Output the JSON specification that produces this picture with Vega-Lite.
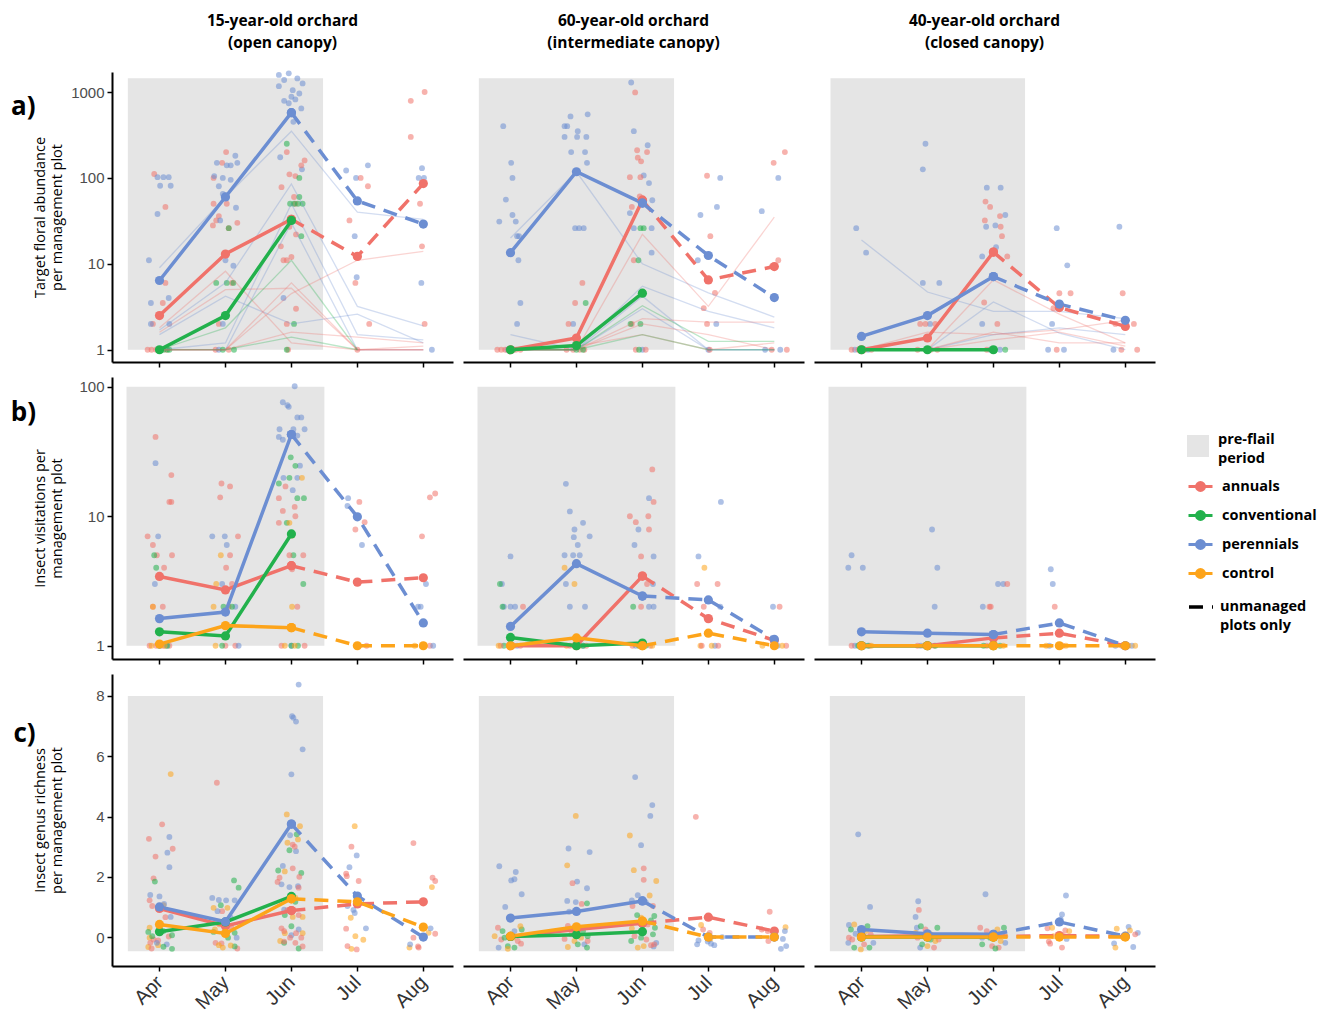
{
"$schema":"https://vega.github.io/schema/vega-lite/v6.json",
"background":"white",
"padding":{"left":10,"top":13,"right":5,"bottom":3},
"config":{"font":"Liberation Sans","view":{"stroke":null},
"axis":{"domainColor":"black","domainWidth":2,"tickColor":"black","tickWidth":1.5,"tickSize":5,"labelColor":"#4d4d4d","labelFontSize":15,"labelFont":"Liberation Sans","grid":false,"titleFont":"Open Sans","titleFontWeight":"normal","titleFontSize":14.5,"titleLineHeight":17,"titleColor":"black"},
"legend":{"labelFont":"Open Sans","labelFontWeight":"bold","labelFontSize":14.5,"labelColor":"black","padding":0}},
"spacing":9,
"resolve":{"scale":{"y":"independent","x":"independent"}},
"datasets":{
"rowA":[
{"kind":"bg","orch":"A","per":"pre-flail period","t":0.52,"t2":3.48,"v":1,"v2":1450},
{"kind":"bg","orch":"B","per":"pre-flail period","t":0.52,"t2":3.48,"v":1,"v2":1450},
{"kind":"bg","orch":"C","per":"pre-flail period","t":0.53,"t2":3.48,"v":1,"v2":1450},
{"orch":"A","grp":"ann","t":0.92,"v":111},{"orch":"A","grp":"ann","t":1.09,"v":46},{"orch":"A","grp":"ann","t":1.09,"v":6},{"orch":"A","grp":"ann","t":1.05,"v":3.5},{"orch":"A","grp":"ann","t":0.9,"v":2},{"orch":"A","grp":"ann","t":0.82,"v":1},{"orch":"A","grp":"ann","t":0.88,"v":1},{"orch":"A","grp":"ann","t":0.95,"v":1},{"orch":"A","grp":"ann","t":1.02,"v":1},{"orch":"A","grp":"ann","t":1.1,"v":1},
{"orch":"A","grp":"per","t":0.97,"v":102},{"orch":"A","grp":"per","t":1.06,"v":102},{"orch":"A","grp":"per","t":1.14,"v":102},{"orch":"A","grp":"per","t":1.01,"v":81},{"orch":"A","grp":"per","t":1.17,"v":81},{"orch":"A","grp":"per","t":0.97,"v":38},{"orch":"A","grp":"per","t":0.84,"v":11},{"orch":"A","grp":"per","t":0.87,"v":3.5},{"orch":"A","grp":"per","t":1.14,"v":4},{"orch":"A","grp":"per","t":0.87,"v":2},{"orch":"A","grp":"per","t":1.15,"v":2},
{"orch":"A","grp":"con","t":1.06,"v":1},{"orch":"A","grp":"con","t":1.12,"v":1},{"orch":"A","grp":"con","t":1.15,"v":1},
{"orch":"A","grp":"ann","t":2.01,"v":200},{"orch":"A","grp":"ann","t":1.95,"v":150},{"orch":"A","grp":"ann","t":1.82,"v":100},{"orch":"A","grp":"ann","t":1.82,"v":50},{"orch":"A","grp":"ann","t":2.02,"v":50},{"orch":"A","grp":"ann","t":1.9,"v":36},{"orch":"A","grp":"ann","t":1.86,"v":32},{"orch":"A","grp":"ann","t":1.81,"v":28},{"orch":"A","grp":"ann","t":2.18,"v":30},{"orch":"A","grp":"ann","t":2.05,"v":26},{"orch":"A","grp":"ann","t":2.1,"v":6},{"orch":"A","grp":"ann","t":1.9,"v":2},{"orch":"A","grp":"ann","t":1.85,"v":1},{"orch":"A","grp":"ann","t":2.05,"v":1},
{"orch":"A","grp":"per","t":1.87,"v":150},{"orch":"A","grp":"per","t":2.15,"v":181},{"orch":"A","grp":"per","t":2.18,"v":150},{"orch":"A","grp":"per","t":1.83,"v":105},{"orch":"A","grp":"per","t":1.96,"v":100},{"orch":"A","grp":"per","t":2.02,"v":140},{"orch":"A","grp":"per","t":2.08,"v":140},{"orch":"A","grp":"per","t":1.9,"v":80},{"orch":"A","grp":"per","t":2.08,"v":95},{"orch":"A","grp":"per","t":1.96,"v":65},{"orch":"A","grp":"per","t":2.16,"v":45},{"orch":"A","grp":"per","t":1.92,"v":32},{"orch":"A","grp":"per","t":2.0,"v":11},{"orch":"A","grp":"per","t":2.12,"v":9.5},{"orch":"A","grp":"per","t":1.96,"v":2},{"orch":"A","grp":"per","t":1.9,"v":1},
{"orch":"A","grp":"con","t":2.05,"v":26},{"orch":"A","grp":"con","t":1.86,"v":6},{"orch":"A","grp":"con","t":2.02,"v":6},{"orch":"A","grp":"con","t":2.12,"v":6},{"orch":"A","grp":"con","t":1.96,"v":1},{"orch":"A","grp":"con","t":2.13,"v":1},
{"orch":"A","grp":"per","t":2.81,"v":1580},{"orch":"A","grp":"per","t":2.89,"v":1380},{"orch":"A","grp":"per","t":2.96,"v":1650},{"orch":"A","grp":"per","t":3.09,"v":1440},{"orch":"A","grp":"per","t":3.17,"v":1260},{"orch":"A","grp":"per","t":2.81,"v":1170},{"orch":"A","grp":"per","t":3.02,"v":1050},{"orch":"A","grp":"per","t":3.12,"v":960},{"orch":"A","grp":"per","t":3.0,"v":880},{"orch":"A","grp":"per","t":3.06,"v":820},{"orch":"A","grp":"per","t":2.89,"v":790},{"orch":"A","grp":"per","t":2.96,"v":740},{"orch":"A","grp":"per","t":3.15,"v":645},{"orch":"A","grp":"per","t":3.03,"v":450},{"orch":"A","grp":"per","t":2.83,"v":174},{"orch":"A","grp":"per","t":3.16,"v":126},{"orch":"A","grp":"per","t":2.88,"v":4},
{"orch":"A","grp":"ann","t":2.93,"v":200},{"orch":"A","grp":"ann","t":3.2,"v":160},{"orch":"A","grp":"ann","t":3.15,"v":140},{"orch":"A","grp":"ann","t":2.97,"v":110},{"orch":"A","grp":"ann","t":3.06,"v":105},{"orch":"A","grp":"ann","t":2.85,"v":78},{"orch":"A","grp":"ann","t":3.04,"v":60},{"orch":"A","grp":"ann","t":3.06,"v":50},{"orch":"A","grp":"ann","t":2.97,"v":27},{"orch":"A","grp":"ann","t":3.07,"v":22},{"orch":"A","grp":"ann","t":2.84,"v":16},{"orch":"A","grp":"ann","t":2.88,"v":11},{"orch":"A","grp":"ann","t":2.93,"v":11},{"orch":"A","grp":"ann","t":3.0,"v":12},{"orch":"A","grp":"ann","t":3.07,"v":3},{"orch":"A","grp":"ann","t":2.93,"v":2},{"orch":"A","grp":"ann","t":2.95,"v":1},
{"orch":"A","grp":"con","t":2.93,"v":250},{"orch":"A","grp":"con","t":3.12,"v":100},{"orch":"A","grp":"con","t":3.12,"v":60},{"orch":"A","grp":"con","t":2.98,"v":50},{"orch":"A","grp":"con","t":3.04,"v":50},{"orch":"A","grp":"con","t":3.1,"v":50},{"orch":"A","grp":"con","t":3.17,"v":50},{"orch":"A","grp":"con","t":3.15,"v":21},{"orch":"A","grp":"con","t":3.04,"v":2},{"orch":"A","grp":"con","t":2.93,"v":1},
{"orch":"A","grp":"per","t":3.83,"v":122},{"orch":"A","grp":"per","t":3.98,"v":100},{"orch":"A","grp":"per","t":4.16,"v":140},{"orch":"A","grp":"per","t":3.96,"v":21},{"orch":"A","grp":"per","t":3.99,"v":7},
{"orch":"A","grp":"ann","t":4.05,"v":100},{"orch":"A","grp":"ann","t":4.16,"v":80},{"orch":"A","grp":"ann","t":3.88,"v":32},{"orch":"A","grp":"ann","t":3.97,"v":6},{"orch":"A","grp":"ann","t":4.18,"v":2},{"orch":"A","grp":"ann","t":4.0,"v":1},
{"orch":"A","grp":"ann","t":4.81,"v":790},{"orch":"A","grp":"ann","t":5.02,"v":1000},{"orch":"A","grp":"ann","t":4.81,"v":300},{"orch":"A","grp":"ann","t":4.95,"v":50},{"orch":"A","grp":"ann","t":4.98,"v":16},{"orch":"A","grp":"ann","t":5.02,"v":2},
{"orch":"A","grp":"per","t":4.98,"v":130},{"orch":"A","grp":"per","t":4.93,"v":100},{"orch":"A","grp":"per","t":5.01,"v":100},{"orch":"A","grp":"per","t":4.97,"v":6},{"orch":"A","grp":"per","t":5.13,"v":1},
{"orch":"B","grp":"per","t":0.89,"v":400},{"orch":"B","grp":"per","t":1.01,"v":150},{"orch":"B","grp":"per","t":1.03,"v":100},{"orch":"B","grp":"per","t":0.93,"v":56},{"orch":"B","grp":"per","t":1.03,"v":37},{"orch":"B","grp":"per","t":0.83,"v":31},{"orch":"B","grp":"per","t":1.08,"v":31},{"orch":"B","grp":"per","t":1.1,"v":21},{"orch":"B","grp":"per","t":1.13,"v":21},{"orch":"B","grp":"per","t":1.12,"v":11},{"orch":"B","grp":"per","t":1.15,"v":3.5},{"orch":"B","grp":"per","t":1.1,"v":2},{"orch":"B","grp":"per","t":0.95,"v":1},
{"orch":"B","grp":"ann","t":0.8,"v":1},{"orch":"B","grp":"ann","t":0.86,"v":1},{"orch":"B","grp":"ann","t":0.92,"v":1},{"orch":"B","grp":"ann","t":1.0,"v":1},{"orch":"B","grp":"ann","t":1.08,"v":1},{"orch":"B","grp":"ann","t":1.15,"v":1},{"orch":"B","grp":"con","t":1.04,"v":1},
{"orch":"B","grp":"per","t":1.91,"v":520},{"orch":"B","grp":"per","t":1.82,"v":400},{"orch":"B","grp":"per","t":1.86,"v":400},{"orch":"B","grp":"per","t":2.17,"v":550},{"orch":"B","grp":"per","t":2.02,"v":350},{"orch":"B","grp":"per","t":1.82,"v":300},{"orch":"B","grp":"per","t":2.01,"v":300},{"orch":"B","grp":"per","t":2.15,"v":300},{"orch":"B","grp":"per","t":1.92,"v":200},{"orch":"B","grp":"per","t":2.13,"v":200},{"orch":"B","grp":"per","t":2.16,"v":150},{"orch":"B","grp":"per","t":1.98,"v":26},{"orch":"B","grp":"per","t":2.04,"v":26},{"orch":"B","grp":"per","t":2.11,"v":26},{"orch":"B","grp":"per","t":1.95,"v":2},
{"orch":"B","grp":"ann","t":2.09,"v":6},{"orch":"B","grp":"ann","t":1.98,"v":3.5},{"orch":"B","grp":"ann","t":1.88,"v":2},{"orch":"B","grp":"ann","t":1.85,"v":1},{"orch":"B","grp":"ann","t":1.95,"v":1},{"orch":"B","grp":"ann","t":2.05,"v":1},{"orch":"B","grp":"ann","t":2.12,"v":1},
{"orch":"B","grp":"con","t":2.14,"v":3.5},{"orch":"B","grp":"con","t":2.0,"v":1},{"orch":"B","grp":"con","t":2.1,"v":1},
{"orch":"B","grp":"per","t":2.83,"v":1290},{"orch":"B","grp":"per","t":2.87,"v":350},{"orch":"B","grp":"per","t":3.08,"v":240},{"orch":"B","grp":"per","t":3.02,"v":107},{"orch":"B","grp":"per","t":3.1,"v":87},{"orch":"B","grp":"per","t":3.15,"v":55},{"orch":"B","grp":"per","t":2.81,"v":39},{"orch":"B","grp":"per","t":2.87,"v":26},{"orch":"B","grp":"per","t":3.14,"v":26},{"orch":"B","grp":"per","t":3.14,"v":13.5},{"orch":"B","grp":"per","t":3.0,"v":1},
{"orch":"B","grp":"ann","t":2.89,"v":990},{"orch":"B","grp":"ann","t":2.92,"v":210},{"orch":"B","grp":"ann","t":3.07,"v":200},{"orch":"B","grp":"ann","t":2.93,"v":172},{"orch":"B","grp":"ann","t":2.98,"v":156},{"orch":"B","grp":"ann","t":2.81,"v":102},{"orch":"B","grp":"ann","t":2.97,"v":102},{"orch":"B","grp":"ann","t":2.96,"v":61},{"orch":"B","grp":"ann","t":2.99,"v":55},{"orch":"B","grp":"ann","t":2.84,"v":46},{"orch":"B","grp":"ann","t":2.87,"v":11},{"orch":"B","grp":"ann","t":2.84,"v":2},{"orch":"B","grp":"ann","t":2.9,"v":1},{"orch":"B","grp":"ann","t":3.05,"v":1},
{"orch":"B","grp":"con","t":2.97,"v":26},{"orch":"B","grp":"con","t":3.02,"v":26},{"orch":"B","grp":"con","t":2.94,"v":11},{"orch":"B","grp":"con","t":2.82,"v":2},{"orch":"B","grp":"con","t":2.97,"v":2},{"orch":"B","grp":"con","t":2.95,"v":1},
{"orch":"B","grp":"per","t":4.18,"v":100},{"orch":"B","grp":"per","t":4.13,"v":46},{"orch":"B","grp":"per","t":3.88,"v":37},{"orch":"B","grp":"per","t":3.84,"v":11},{"orch":"B","grp":"per","t":4.12,"v":2},{"orch":"B","grp":"per","t":4.0,"v":1},
{"orch":"B","grp":"ann","t":3.98,"v":106},{"orch":"B","grp":"ann","t":4.03,"v":21},{"orch":"B","grp":"ann","t":4.1,"v":4.6},{"orch":"B","grp":"ann","t":3.93,"v":3.05},{"orch":"B","grp":"ann","t":3.98,"v":2},{"orch":"B","grp":"ann","t":4.02,"v":1},
{"orch":"B","grp":"ann","t":5.16,"v":200},{"orch":"B","grp":"ann","t":4.99,"v":150},{"orch":"B","grp":"ann","t":5.06,"v":11},{"orch":"B","grp":"ann","t":4.96,"v":9.3},{"orch":"B","grp":"ann","t":4.96,"v":1},{"orch":"B","grp":"ann","t":5.19,"v":1},
{"orch":"B","grp":"per","t":5.06,"v":100},{"orch":"B","grp":"per","t":4.81,"v":41},{"orch":"B","grp":"per","t":4.86,"v":1},{"orch":"B","grp":"per","t":5.09,"v":1},
{"orch":"C","grp":"per","t":0.92,"v":26},{"orch":"C","grp":"per","t":1.07,"v":13.5},{"orch":"C","grp":"per","t":0.9,"v":1},{"orch":"C","grp":"per","t":1.0,"v":1},{"orch":"C","grp":"per","t":1.1,"v":1},{"orch":"C","grp":"ann","t":0.85,"v":1},{"orch":"C","grp":"ann","t":0.95,"v":1},{"orch":"C","grp":"ann","t":1.05,"v":1},{"orch":"C","grp":"ann","t":1.15,"v":1},{"orch":"C","grp":"con","t":1.0,"v":1},
{"orch":"C","grp":"per","t":1.97,"v":250},{"orch":"C","grp":"per","t":1.93,"v":126},{"orch":"C","grp":"per","t":1.93,"v":6},{"orch":"C","grp":"per","t":2.18,"v":6},{"orch":"C","grp":"per","t":2.04,"v":2},{"orch":"C","grp":"ann","t":1.89,"v":2},{"orch":"C","grp":"ann","t":1.97,"v":2},{"orch":"C","grp":"ann","t":2.12,"v":2},{"orch":"C","grp":"ann","t":1.85,"v":1},{"orch":"C","grp":"ann","t":2.05,"v":1},{"orch":"C","grp":"ann","t":2.15,"v":1},{"orch":"C","grp":"con","t":2.0,"v":1},
{"orch":"C","grp":"per","t":2.9,"v":77},{"orch":"C","grp":"per","t":3.11,"v":77},{"orch":"C","grp":"per","t":3.18,"v":37},{"orch":"C","grp":"per","t":2.89,"v":27},{"orch":"C","grp":"per","t":3.03,"v":28},{"orch":"C","grp":"per","t":3.04,"v":15.6},{"orch":"C","grp":"per","t":2.83,"v":12.2},{"orch":"C","grp":"per","t":2.83,"v":2},{"orch":"C","grp":"per","t":2.95,"v":1},{"orch":"C","grp":"per","t":3.1,"v":1},
{"orch":"C","grp":"ann","t":2.88,"v":53},{"orch":"C","grp":"ann","t":2.95,"v":46},{"orch":"C","grp":"ann","t":3.1,"v":36},{"orch":"C","grp":"ann","t":2.87,"v":32},{"orch":"C","grp":"ann","t":3.11,"v":27},{"orch":"C","grp":"ann","t":3.13,"v":21},{"orch":"C","grp":"ann","t":3.21,"v":12.2},{"orch":"C","grp":"ann","t":2.86,"v":3.55},{"orch":"C","grp":"ann","t":3.06,"v":2},{"orch":"C","grp":"ann","t":2.9,"v":1},{"orch":"C","grp":"ann","t":3.0,"v":1},
{"orch":"C","grp":"con","t":2.98,"v":1},{"orch":"C","grp":"con","t":3.18,"v":1},
{"orch":"C","grp":"per","t":3.96,"v":26},{"orch":"C","grp":"per","t":4.12,"v":9.6},{"orch":"C","grp":"per","t":3.89,"v":2},{"orch":"C","grp":"per","t":3.83,"v":1},{"orch":"C","grp":"per","t":4.07,"v":1},
{"orch":"C","grp":"ann","t":4.0,"v":4.55},{"orch":"C","grp":"ann","t":4.17,"v":4.55},{"orch":"C","grp":"ann","t":3.91,"v":3.05},{"orch":"C","grp":"ann","t":3.96,"v":1},
{"orch":"C","grp":"per","t":4.91,"v":27},{"orch":"C","grp":"per","t":4.82,"v":1},
{"orch":"C","grp":"ann","t":4.96,"v":4.55},{"orch":"C","grp":"ann","t":4.85,"v":2},{"orch":"C","grp":"ann","t":5.13,"v":2},{"orch":"C","grp":"ann","t":4.94,"v":1},{"orch":"C","grp":"ann","t":5.18,"v":1},
{"kind":"ln","orch":"A","grp":"per","id":"A1","t":1,"v":9},{"kind":"ln","orch":"A","grp":"per","id":"A1","t":2,"v":60},{"kind":"ln","orch":"A","grp":"per","id":"A1","t":3,"v":350},{"kind":"ln","orch":"A","grp":"per","id":"A1","t":4,"v":40},{"kind":"ln","orch":"A","grp":"per","id":"A1","t":5,"v":33},
{"kind":"ln","orch":"A","grp":"per","id":"A2","t":1,"v":1.5},{"kind":"ln","orch":"A","grp":"per","id":"A2","t":2,"v":4.2},{"kind":"ln","orch":"A","grp":"per","id":"A2","t":3,"v":2},{"kind":"ln","orch":"A","grp":"per","id":"A2","t":4,"v":2.6},{"kind":"ln","orch":"A","grp":"per","id":"A2","t":5,"v":1.2},
{"kind":"ln","orch":"A","grp":"per","id":"A3","t":1,"v":1.7},{"kind":"ln","orch":"A","grp":"per","id":"A3","t":2,"v":6},{"kind":"ln","orch":"A","grp":"per","id":"A3","t":3,"v":85},{"kind":"ln","orch":"A","grp":"per","id":"A3","t":4,"v":3.2},{"kind":"ln","orch":"A","grp":"per","id":"A3","t":5,"v":1.9},
{"kind":"ln","orch":"A","grp":"per","id":"A4","t":1,"v":1},{"kind":"ln","orch":"A","grp":"per","id":"A4","t":2,"v":1.2},{"kind":"ln","orch":"A","grp":"per","id":"A4","t":3,"v":50},{"kind":"ln","orch":"A","grp":"per","id":"A4","t":4,"v":1.5},{"kind":"ln","orch":"A","grp":"per","id":"A4","t":5,"v":1.3},
{"kind":"ln","orch":"A","grp":"per","id":"A5","t":1,"v":1},{"kind":"ln","orch":"A","grp":"per","id":"A5","t":2,"v":1},{"kind":"ln","orch":"A","grp":"per","id":"A5","t":3,"v":30},{"kind":"ln","orch":"A","grp":"per","id":"A5","t":4,"v":1},{"kind":"ln","orch":"A","grp":"per","id":"A5","t":5,"v":1},
{"kind":"ln","orch":"A","grp":"ann","id":"A6","t":1,"v":1.8},{"kind":"ln","orch":"A","grp":"ann","id":"A6","t":2,"v":8.2},{"kind":"ln","orch":"A","grp":"ann","id":"A6","t":3,"v":1.2},{"kind":"ln","orch":"A","grp":"ann","id":"A6","t":4,"v":1},{"kind":"ln","orch":"A","grp":"ann","id":"A6","t":5,"v":1},
{"kind":"ln","orch":"A","grp":"ann","id":"A7","t":1,"v":1.6},{"kind":"ln","orch":"A","grp":"ann","id":"A7","t":2,"v":5},{"kind":"ln","orch":"A","grp":"ann","id":"A7","t":3,"v":5.2},{"kind":"ln","orch":"A","grp":"ann","id":"A7","t":4,"v":1},{"kind":"ln","orch":"A","grp":"ann","id":"A7","t":5,"v":1},
{"kind":"ln","orch":"A","grp":"ann","id":"A8","t":1,"v":1},{"kind":"ln","orch":"A","grp":"ann","id":"A8","t":2,"v":1},{"kind":"ln","orch":"A","grp":"ann","id":"A8","t":3,"v":4.5},{"kind":"ln","orch":"A","grp":"ann","id":"A8","t":4,"v":11},{"kind":"ln","orch":"A","grp":"ann","id":"A8","t":5,"v":14},
{"kind":"ln","orch":"A","grp":"ann","id":"A9","t":1,"v":1},{"kind":"ln","orch":"A","grp":"ann","id":"A9","t":2,"v":1},{"kind":"ln","orch":"A","grp":"ann","id":"A9","t":3,"v":6},{"kind":"ln","orch":"A","grp":"ann","id":"A9","t":4,"v":1},{"kind":"ln","orch":"A","grp":"ann","id":"A9","t":5,"v":1.1},
{"kind":"ln","orch":"A","grp":"ann","id":"A10","t":1,"v":1},{"kind":"ln","orch":"A","grp":"ann","id":"A10","t":2,"v":1},{"kind":"ln","orch":"A","grp":"ann","id":"A10","t":3,"v":1.6},{"kind":"ln","orch":"A","grp":"ann","id":"A10","t":4,"v":1.4},{"kind":"ln","orch":"A","grp":"ann","id":"A10","t":5,"v":1.2},
{"kind":"ln","orch":"A","grp":"con","id":"A11","t":1,"v":1},{"kind":"ln","orch":"A","grp":"con","id":"A11","t":2,"v":1.8},{"kind":"ln","orch":"A","grp":"con","id":"A11","t":3,"v":11},{"kind":"ln","orch":"A","grp":"con","id":"A11","t":4,"v":1},
{"kind":"ln","orch":"A","grp":"con","id":"A12","t":1,"v":1},{"kind":"ln","orch":"A","grp":"con","id":"A12","t":2,"v":1},{"kind":"ln","orch":"A","grp":"con","id":"A12","t":3,"v":1.4},{"kind":"ln","orch":"A","grp":"con","id":"A12","t":4,"v":1},
{"kind":"ln","orch":"B","grp":"per","id":"B1","t":1,"v":20},{"kind":"ln","orch":"B","grp":"per","id":"B1","t":2,"v":118},{"kind":"ln","orch":"B","grp":"per","id":"B1","t":3,"v":10},{"kind":"ln","orch":"B","grp":"per","id":"B1","t":4,"v":4.6},{"kind":"ln","orch":"B","grp":"per","id":"B1","t":5,"v":2.4},
{"kind":"ln","orch":"B","grp":"per","id":"B2","t":1,"v":1.5},{"kind":"ln","orch":"B","grp":"per","id":"B2","t":2,"v":1},{"kind":"ln","orch":"B","grp":"per","id":"B2","t":3,"v":4.2},{"kind":"ln","orch":"B","grp":"per","id":"B2","t":4,"v":1},{"kind":"ln","orch":"B","grp":"per","id":"B2","t":5,"v":1},
{"kind":"ln","orch":"B","grp":"per","id":"B3","t":1,"v":1},{"kind":"ln","orch":"B","grp":"per","id":"B3","t":2,"v":1},{"kind":"ln","orch":"B","grp":"per","id":"B3","t":3,"v":5.5},{"kind":"ln","orch":"B","grp":"per","id":"B3","t":4,"v":2.8},{"kind":"ln","orch":"B","grp":"per","id":"B3","t":5,"v":1.8},
{"kind":"ln","orch":"B","grp":"per","id":"B4","t":1,"v":1},{"kind":"ln","orch":"B","grp":"per","id":"B4","t":2,"v":1},{"kind":"ln","orch":"B","grp":"per","id":"B4","t":3,"v":3},{"kind":"ln","orch":"B","grp":"per","id":"B4","t":4,"v":1},{"kind":"ln","orch":"B","grp":"per","id":"B4","t":5,"v":1},
{"kind":"ln","orch":"B","grp":"ann","id":"B5","t":1,"v":1},{"kind":"ln","orch":"B","grp":"ann","id":"B5","t":2,"v":1},{"kind":"ln","orch":"B","grp":"ann","id":"B5","t":3,"v":22},{"kind":"ln","orch":"B","grp":"ann","id":"B5","t":4,"v":3.2},{"kind":"ln","orch":"B","grp":"ann","id":"B5","t":5,"v":35},
{"kind":"ln","orch":"B","grp":"ann","id":"B6","t":1,"v":1},{"kind":"ln","orch":"B","grp":"ann","id":"B6","t":2,"v":1},{"kind":"ln","orch":"B","grp":"ann","id":"B6","t":3,"v":2.3},{"kind":"ln","orch":"B","grp":"ann","id":"B6","t":4,"v":2.1},{"kind":"ln","orch":"B","grp":"ann","id":"B6","t":5,"v":2.1},
{"kind":"ln","orch":"B","grp":"ann","id":"B7","t":1,"v":1},{"kind":"ln","orch":"B","grp":"ann","id":"B7","t":2,"v":1},{"kind":"ln","orch":"B","grp":"ann","id":"B7","t":3,"v":2},{"kind":"ln","orch":"B","grp":"ann","id":"B7","t":4,"v":1.5},{"kind":"ln","orch":"B","grp":"ann","id":"B7","t":5,"v":1},
{"kind":"ln","orch":"B","grp":"ann","id":"B8","t":1,"v":1},{"kind":"ln","orch":"B","grp":"ann","id":"B8","t":2,"v":1.1},{"kind":"ln","orch":"B","grp":"ann","id":"B8","t":3,"v":1.5},{"kind":"ln","orch":"B","grp":"ann","id":"B8","t":4,"v":1},{"kind":"ln","orch":"B","grp":"ann","id":"B8","t":5,"v":1.2},
{"kind":"ln","orch":"B","grp":"con","id":"B9","t":1,"v":1},{"kind":"ln","orch":"B","grp":"con","id":"B9","t":2,"v":1},{"kind":"ln","orch":"B","grp":"con","id":"B9","t":3,"v":3.25},{"kind":"ln","orch":"B","grp":"con","id":"B9","t":4,"v":1.25},{"kind":"ln","orch":"B","grp":"con","id":"B9","t":5,"v":1.25},
{"kind":"ln","orch":"B","grp":"con","id":"B10","t":1,"v":1},{"kind":"ln","orch":"B","grp":"con","id":"B10","t":2,"v":1},{"kind":"ln","orch":"B","grp":"con","id":"B10","t":3,"v":1.5},{"kind":"ln","orch":"B","grp":"con","id":"B10","t":4,"v":1},{"kind":"ln","orch":"B","grp":"con","id":"B10","t":5,"v":1},
{"kind":"ln","orch":"C","grp":"per","id":"C1","t":1,"v":19},{"kind":"ln","orch":"C","grp":"per","id":"C1","t":2,"v":4.7},{"kind":"ln","orch":"C","grp":"per","id":"C1","t":3,"v":2.8},{"kind":"ln","orch":"C","grp":"per","id":"C1","t":4,"v":2.8},{"kind":"ln","orch":"C","grp":"per","id":"C1","t":5,"v":2.3},
{"kind":"ln","orch":"C","grp":"per","id":"C2","t":1,"v":1},{"kind":"ln","orch":"C","grp":"per","id":"C2","t":2,"v":1},{"kind":"ln","orch":"C","grp":"per","id":"C2","t":3,"v":3.6},{"kind":"ln","orch":"C","grp":"per","id":"C2","t":4,"v":1.56},{"kind":"ln","orch":"C","grp":"per","id":"C2","t":5,"v":1},
{"kind":"ln","orch":"C","grp":"per","id":"C3","t":1,"v":1},{"kind":"ln","orch":"C","grp":"per","id":"C3","t":2,"v":1},{"kind":"ln","orch":"C","grp":"per","id":"C3","t":3,"v":1.5},{"kind":"ln","orch":"C","grp":"per","id":"C3","t":4,"v":1.8},{"kind":"ln","orch":"C","grp":"per","id":"C3","t":5,"v":1.5},
{"kind":"ln","orch":"C","grp":"ann","id":"C4","t":1,"v":1},{"kind":"ln","orch":"C","grp":"ann","id":"C4","t":2,"v":1},{"kind":"ln","orch":"C","grp":"ann","id":"C4","t":3,"v":6.5},{"kind":"ln","orch":"C","grp":"ann","id":"C4","t":4,"v":2.6},{"kind":"ln","orch":"C","grp":"ann","id":"C4","t":5,"v":1.2},
{"kind":"ln","orch":"C","grp":"ann","id":"C5","t":1,"v":1},{"kind":"ln","orch":"C","grp":"ann","id":"C5","t":2,"v":1.6},{"kind":"ln","orch":"C","grp":"ann","id":"C5","t":3,"v":1.5},{"kind":"ln","orch":"C","grp":"ann","id":"C5","t":4,"v":1.7},{"kind":"ln","orch":"C","grp":"ann","id":"C5","t":5,"v":2.2},
{"kind":"ln","orch":"C","grp":"ann","id":"C6","t":1,"v":1},{"kind":"ln","orch":"C","grp":"ann","id":"C6","t":2,"v":1},{"kind":"ln","orch":"C","grp":"ann","id":"C6","t":3,"v":1.3},{"kind":"ln","orch":"C","grp":"ann","id":"C6","t":4,"v":1.6},{"kind":"ln","orch":"C","grp":"ann","id":"C6","t":5,"v":1.1},
{"kind":"ln","orch":"C","grp":"ann","id":"C7","t":1,"v":1},{"kind":"ln","orch":"C","grp":"ann","id":"C7","t":2,"v":1},{"kind":"ln","orch":"C","grp":"ann","id":"C7","t":3,"v":1.6},{"kind":"ln","orch":"C","grp":"ann","id":"C7","t":4,"v":1.2},{"kind":"ln","orch":"C","grp":"ann","id":"C7","t":5,"v":1.2},
{"kind":"mn","orch":"A","grp":"ann","seg":"managed","t":1,"v":2.5},{"kind":"mn","orch":"A","grp":"ann","seg":"managed","t":2,"v":13},{"kind":"mn","orch":"A","grp":"ann","seg":"managed","t":3,"v":33},
{"kind":"mn","orch":"A","grp":"ann","seg":"unmanaged plots only","t":3,"v":33},{"kind":"mn","orch":"A","grp":"ann","seg":"unmanaged plots only","t":4,"v":12.2},{"kind":"mn","orch":"A","grp":"ann","seg":"unmanaged plots only","t":5,"v":86},
{"kind":"mn","orch":"A","grp":"con","seg":"managed","t":1,"v":1},{"kind":"mn","orch":"A","grp":"con","seg":"managed","t":2,"v":2.5},{"kind":"mn","orch":"A","grp":"con","seg":"managed","t":3,"v":32},
{"kind":"mn","orch":"A","grp":"per","seg":"managed","t":1,"v":6.4},{"kind":"mn","orch":"A","grp":"per","seg":"managed","t":2,"v":60},{"kind":"mn","orch":"A","grp":"per","seg":"managed","t":3,"v":575},
{"kind":"mn","orch":"A","grp":"per","seg":"unmanaged plots only","t":3,"v":575},{"kind":"mn","orch":"A","grp":"per","seg":"unmanaged plots only","t":4,"v":54},{"kind":"mn","orch":"A","grp":"per","seg":"unmanaged plots only","t":5,"v":29},
{"kind":"mn","orch":"B","grp":"ann","seg":"managed","t":1,"v":1},{"kind":"mn","orch":"B","grp":"ann","seg":"managed","t":2,"v":1.37},{"kind":"mn","orch":"B","grp":"ann","seg":"managed","t":3,"v":55},
{"kind":"mn","orch":"B","grp":"ann","seg":"unmanaged plots only","t":3,"v":55},{"kind":"mn","orch":"B","grp":"ann","seg":"unmanaged plots only","t":4,"v":6.5},{"kind":"mn","orch":"B","grp":"ann","seg":"unmanaged plots only","t":5,"v":9.3},
{"kind":"mn","orch":"B","grp":"con","seg":"managed","t":1,"v":1},{"kind":"mn","orch":"B","grp":"con","seg":"managed","t":2,"v":1.12},{"kind":"mn","orch":"B","grp":"con","seg":"managed","t":3,"v":4.55},
{"kind":"mn","orch":"B","grp":"per","seg":"managed","t":1,"v":13.5},{"kind":"mn","orch":"B","grp":"per","seg":"managed","t":2,"v":118},{"kind":"mn","orch":"B","grp":"per","seg":"managed","t":3,"v":51},
{"kind":"mn","orch":"B","grp":"per","seg":"unmanaged plots only","t":3,"v":51},{"kind":"mn","orch":"B","grp":"per","seg":"unmanaged plots only","t":4,"v":12.5},{"kind":"mn","orch":"B","grp":"per","seg":"unmanaged plots only","t":5,"v":4.05},
{"kind":"mn","orch":"C","grp":"ann","seg":"managed","t":1,"v":1},{"kind":"mn","orch":"C","grp":"ann","seg":"managed","t":2,"v":1.37},{"kind":"mn","orch":"C","grp":"ann","seg":"managed","t":3,"v":13.7},
{"kind":"mn","orch":"C","grp":"ann","seg":"unmanaged plots only","t":3,"v":13.7},{"kind":"mn","orch":"C","grp":"ann","seg":"unmanaged plots only","t":4,"v":3.1},{"kind":"mn","orch":"C","grp":"ann","seg":"unmanaged plots only","t":5,"v":1.87},
{"kind":"mn","orch":"C","grp":"per","seg":"managed","t":1,"v":1.43},{"kind":"mn","orch":"C","grp":"per","seg":"managed","t":2,"v":2.5},{"kind":"mn","orch":"C","grp":"per","seg":"managed","t":3,"v":7.1},
{"kind":"mn","orch":"C","grp":"per","seg":"unmanaged plots only","t":3,"v":7.1},{"kind":"mn","orch":"C","grp":"per","seg":"unmanaged plots only","t":4,"v":3.4},{"kind":"mn","orch":"C","grp":"per","seg":"unmanaged plots only","t":5,"v":2.2},
{"kind":"mn","orch":"C","grp":"con","seg":"managed","t":1,"v":1},{"kind":"mn","orch":"C","grp":"con","seg":"managed","t":2,"v":1},{"kind":"mn","orch":"C","grp":"con","seg":"managed","t":3,"v":1}
],
"rowB":[
{"kind":"bg","orch":"A","per":"pre-flail period","t":0.5,"t2":3.5,"v":1,"v2":100},
{"kind":"bg","orch":"B","per":"pre-flail period","t":0.5,"t2":3.5,"v":1,"v2":100},
{"kind":"bg","orch":"C","per":"pre-flail period","t":0.5,"t2":3.5,"v":1,"v2":100},
{"orch":"A","grp":"ann","t":0.94,"v":41},{"orch":"A","grp":"ann","t":1.18,"v":20.8},{"orch":"A","grp":"ann","t":1.15,"v":12.9},{"orch":"A","grp":"ann","t":1.18,"v":12.9},{"orch":"A","grp":"ann","t":0.82,"v":7},{"orch":"A","grp":"ann","t":0.9,"v":6},{"orch":"A","grp":"ann","t":0.96,"v":5},{"orch":"A","grp":"ann","t":1.19,"v":5},{"orch":"A","grp":"ann","t":1.07,"v":4},{"orch":"A","grp":"ann","t":0.9,"v":2},{"orch":"A","grp":"ann","t":1.05,"v":2},{"orch":"A","grp":"ann","t":0.85,"v":1},{"orch":"A","grp":"ann","t":0.95,"v":1},{"orch":"A","grp":"ann","t":1.05,"v":1},{"orch":"A","grp":"ann","t":1.15,"v":1},
{"orch":"A","grp":"per","t":0.94,"v":25.7},{"orch":"A","grp":"per","t":0.98,"v":7},{"orch":"A","grp":"per","t":0.93,"v":3},{"orch":"A","grp":"per","t":1.0,"v":1},{"orch":"A","grp":"per","t":1.1,"v":1},
{"orch":"A","grp":"con","t":0.92,"v":5},{"orch":"A","grp":"con","t":0.95,"v":4},{"orch":"A","grp":"con","t":1.0,"v":1},{"orch":"A","grp":"con","t":1.12,"v":1},
{"orch":"A","grp":"ctl","t":0.9,"v":2},{"orch":"A","grp":"ctl","t":0.88,"v":1},{"orch":"A","grp":"ctl","t":1.08,"v":1},
{"orch":"A","grp":"ann","t":1.94,"v":17.9},{"orch":"A","grp":"ann","t":2.07,"v":17},{"orch":"A","grp":"ann","t":1.92,"v":14},{"orch":"A","grp":"ann","t":2.19,"v":7},{"orch":"A","grp":"ann","t":2.07,"v":5},{"orch":"A","grp":"ann","t":2.01,"v":4},{"orch":"A","grp":"ann","t":2.1,"v":3},{"orch":"A","grp":"ann","t":2.05,"v":2},{"orch":"A","grp":"ann","t":2.0,"v":1},{"orch":"A","grp":"ann","t":2.15,"v":1},
{"orch":"A","grp":"per","t":1.8,"v":7},{"orch":"A","grp":"per","t":1.99,"v":7},{"orch":"A","grp":"per","t":2.02,"v":6},{"orch":"A","grp":"per","t":1.95,"v":3},{"orch":"A","grp":"per","t":2.15,"v":2},{"orch":"A","grp":"per","t":2.2,"v":1},
{"orch":"A","grp":"ctl","t":1.93,"v":5},{"orch":"A","grp":"ctl","t":1.86,"v":3},{"orch":"A","grp":"ctl","t":1.82,"v":2},{"orch":"A","grp":"ctl","t":1.85,"v":1},
{"orch":"A","grp":"con","t":1.97,"v":2},{"orch":"A","grp":"con","t":2.1,"v":2},{"orch":"A","grp":"con","t":1.95,"v":1},
{"orch":"A","grp":"per","t":3.05,"v":101},{"orch":"A","grp":"per","t":2.87,"v":76},{"orch":"A","grp":"per","t":2.96,"v":70},{"orch":"A","grp":"per","t":2.94,"v":72},{"orch":"A","grp":"per","t":3.09,"v":58},{"orch":"A","grp":"per","t":3.15,"v":58},{"orch":"A","grp":"per","t":2.82,"v":47},{"orch":"A","grp":"per","t":3.2,"v":47},{"orch":"A","grp":"per","t":2.81,"v":41},{"orch":"A","grp":"per","t":2.87,"v":39},{"orch":"A","grp":"per","t":3.03,"v":47},{"orch":"A","grp":"per","t":3.09,"v":42},{"orch":"A","grp":"per","t":3.13,"v":24.6},{"orch":"A","grp":"per","t":2.88,"v":19.8},{"orch":"A","grp":"per","t":3.09,"v":19.8},{"orch":"A","grp":"per","t":3.02,"v":15.9},{"orch":"A","grp":"per","t":3.0,"v":1},
{"orch":"A","grp":"con","t":2.99,"v":28.5},{"orch":"A","grp":"con","t":3.06,"v":24.5},{"orch":"A","grp":"con","t":2.97,"v":19.8},{"orch":"A","grp":"con","t":2.81,"v":17.9},{"orch":"A","grp":"con","t":3.09,"v":13.8},{"orch":"A","grp":"con","t":3.19,"v":13.8},{"orch":"A","grp":"con","t":2.93,"v":8.9},{"orch":"A","grp":"con","t":3.03,"v":5},{"orch":"A","grp":"con","t":3.18,"v":3},{"orch":"A","grp":"con","t":3.0,"v":1},{"orch":"A","grp":"con","t":3.1,"v":1},
{"orch":"A","grp":"ann","t":2.91,"v":17},{"orch":"A","grp":"ann","t":2.81,"v":13.8},{"orch":"A","grp":"ann","t":3.05,"v":11.8},{"orch":"A","grp":"ann","t":2.87,"v":11},{"orch":"A","grp":"ann","t":3.06,"v":10},{"orch":"A","grp":"ann","t":2.81,"v":8.9},{"orch":"A","grp":"ann","t":3.18,"v":5},{"orch":"A","grp":"ann","t":2.97,"v":5},{"orch":"A","grp":"ann","t":3.01,"v":3.9},{"orch":"A","grp":"ann","t":3.09,"v":2},{"orch":"A","grp":"ann","t":2.85,"v":1},{"orch":"A","grp":"ann","t":3.2,"v":1},
{"orch":"A","grp":"ctl","t":3.16,"v":19.8},{"orch":"A","grp":"ctl","t":2.97,"v":8.9},{"orch":"A","grp":"ctl","t":3.01,"v":7.1},{"orch":"A","grp":"ctl","t":3.01,"v":2},{"orch":"A","grp":"ctl","t":2.9,"v":1},{"orch":"A","grp":"ctl","t":3.05,"v":1},
{"orch":"A","grp":"per","t":3.86,"v":13.8},{"orch":"A","grp":"per","t":3.85,"v":12},{"orch":"A","grp":"per","t":4.07,"v":6},
{"orch":"A","grp":"ann","t":4.03,"v":12.9},{"orch":"A","grp":"ann","t":4.11,"v":9},{"orch":"A","grp":"ann","t":3.97,"v":7.9},{"orch":"A","grp":"ann","t":4.14,"v":1},{"orch":"A","grp":"ctl","t":4.0,"v":1},
{"orch":"A","grp":"ann","t":5.1,"v":14},{"orch":"A","grp":"ann","t":5.18,"v":15},{"orch":"A","grp":"ann","t":4.98,"v":7},{"orch":"A","grp":"ann","t":5.1,"v":1},
{"orch":"A","grp":"per","t":5.04,"v":3},{"orch":"A","grp":"per","t":4.92,"v":2},{"orch":"A","grp":"per","t":4.96,"v":2},{"orch":"A","grp":"per","t":5.15,"v":1},{"orch":"A","grp":"ctl","t":4.87,"v":1},{"orch":"A","grp":"ctl","t":5.0,"v":1},
{"orch":"B","grp":"per","t":1.0,"v":4.9},{"orch":"B","grp":"per","t":0.87,"v":3},{"orch":"B","grp":"per","t":0.9,"v":2},{"orch":"B","grp":"per","t":1.0,"v":2},{"orch":"B","grp":"per","t":1.07,"v":2},{"orch":"B","grp":"per","t":1.1,"v":1},
{"orch":"B","grp":"con","t":0.84,"v":3},{"orch":"B","grp":"con","t":0.88,"v":2},{"orch":"B","grp":"con","t":0.9,"v":1},{"orch":"B","grp":"con","t":1.0,"v":1},
{"orch":"B","grp":"ann","t":1.19,"v":2},{"orch":"B","grp":"ann","t":0.85,"v":1},{"orch":"B","grp":"ann","t":1.15,"v":1},{"orch":"B","grp":"ctl","t":0.82,"v":1},{"orch":"B","grp":"ctl","t":1.05,"v":1},
{"orch":"B","grp":"per","t":1.84,"v":17.8},{"orch":"B","grp":"per","t":1.9,"v":10.9},{"orch":"B","grp":"per","t":2.1,"v":8.9},{"orch":"B","grp":"per","t":1.97,"v":7.9},{"orch":"B","grp":"per","t":2.2,"v":7},{"orch":"B","grp":"per","t":1.96,"v":6.9},{"orch":"B","grp":"per","t":2.02,"v":6},{"orch":"B","grp":"per","t":1.82,"v":5},{"orch":"B","grp":"per","t":1.95,"v":5},{"orch":"B","grp":"per","t":2.05,"v":5},{"orch":"B","grp":"per","t":1.84,"v":3},{"orch":"B","grp":"per","t":1.9,"v":2},{"orch":"B","grp":"per","t":2.13,"v":2},{"orch":"B","grp":"per","t":2.1,"v":1},
{"orch":"B","grp":"ctl","t":1.82,"v":4},{"orch":"B","grp":"ctl","t":1.97,"v":3},{"orch":"B","grp":"ctl","t":1.85,"v":1},{"orch":"B","grp":"ctl","t":2.05,"v":1},
{"orch":"B","grp":"ann","t":1.9,"v":1},{"orch":"B","grp":"ann","t":2.15,"v":1},{"orch":"B","grp":"con","t":2.0,"v":1},{"orch":"B","grp":"con","t":2.1,"v":1},
{"orch":"B","grp":"ann","t":3.15,"v":23},{"orch":"B","grp":"ann","t":3.17,"v":12.9},{"orch":"B","grp":"ann","t":2.81,"v":10},{"orch":"B","grp":"ann","t":3.09,"v":10},{"orch":"B","grp":"ann","t":2.9,"v":9},{"orch":"B","grp":"ann","t":3.1,"v":7.9},{"orch":"B","grp":"ann","t":2.98,"v":4.9},{"orch":"B","grp":"ann","t":3.07,"v":3},{"orch":"B","grp":"ann","t":2.98,"v":2},{"orch":"B","grp":"ann","t":2.85,"v":1},{"orch":"B","grp":"ann","t":3.12,"v":1},
{"orch":"B","grp":"per","t":3.1,"v":13.8},{"orch":"B","grp":"per","t":2.94,"v":7.9},{"orch":"B","grp":"per","t":2.88,"v":6},{"orch":"B","grp":"per","t":3.17,"v":4.9},{"orch":"B","grp":"per","t":3.16,"v":3},{"orch":"B","grp":"per","t":3.1,"v":2},{"orch":"B","grp":"per","t":3.17,"v":2},{"orch":"B","grp":"per","t":2.9,"v":1},
{"orch":"B","grp":"con","t":2.86,"v":2},{"orch":"B","grp":"con","t":2.95,"v":1},{"orch":"B","grp":"con","t":3.05,"v":1},{"orch":"B","grp":"ctl","t":2.95,"v":1},{"orch":"B","grp":"ctl","t":3.15,"v":1},
{"orch":"B","grp":"per","t":4.19,"v":12.9},{"orch":"B","grp":"per","t":3.85,"v":4.9},{"orch":"B","grp":"per","t":4.18,"v":2},{"orch":"B","grp":"per","t":4.1,"v":1},
{"orch":"B","grp":"ctl","t":3.94,"v":4},{"orch":"B","grp":"ctl","t":3.88,"v":1},{"orch":"B","grp":"ctl","t":4.05,"v":1},
{"orch":"B","grp":"ann","t":3.83,"v":3},{"orch":"B","grp":"ann","t":4.14,"v":3},{"orch":"B","grp":"ann","t":3.93,"v":2},{"orch":"B","grp":"ann","t":3.9,"v":1},{"orch":"B","grp":"ann","t":4.15,"v":1},
{"orch":"B","grp":"per","t":4.98,"v":2},{"orch":"B","grp":"per","t":5.05,"v":1},{"orch":"B","grp":"ann","t":5.08,"v":2},{"orch":"B","grp":"ann","t":5.18,"v":1},{"orch":"B","grp":"ctl","t":4.82,"v":1},{"orch":"B","grp":"ctl","t":5.12,"v":1},
{"orch":"C","grp":"per","t":0.85,"v":5},{"orch":"C","grp":"per","t":0.8,"v":4},{"orch":"C","grp":"per","t":1.02,"v":4},{"orch":"C","grp":"per","t":0.9,"v":1},{"orch":"C","grp":"per","t":1.05,"v":1},{"orch":"C","grp":"ann","t":0.85,"v":1},{"orch":"C","grp":"ann","t":1.12,"v":1},{"orch":"C","grp":"con","t":0.95,"v":1},{"orch":"C","grp":"con","t":1.1,"v":1},{"orch":"C","grp":"ctl","t":1.0,"v":1},{"orch":"C","grp":"ctl","t":1.15,"v":1},
{"orch":"C","grp":"per","t":2.07,"v":7.9},{"orch":"C","grp":"per","t":2.15,"v":4},{"orch":"C","grp":"per","t":2.11,"v":2},{"orch":"C","grp":"per","t":1.9,"v":1},{"orch":"C","grp":"ann","t":1.85,"v":1},{"orch":"C","grp":"ann","t":2.1,"v":1},{"orch":"C","grp":"con","t":2.0,"v":1},{"orch":"C","grp":"con","t":2.12,"v":1},{"orch":"C","grp":"ctl","t":1.95,"v":1},
{"orch":"C","grp":"per","t":3.07,"v":3},{"orch":"C","grp":"per","t":3.15,"v":3},{"orch":"C","grp":"per","t":2.84,"v":2},{"orch":"C","grp":"per","t":3.0,"v":1},{"orch":"C","grp":"ann","t":3.21,"v":3},{"orch":"C","grp":"ann","t":2.94,"v":2},{"orch":"C","grp":"ann","t":2.96,"v":2},{"orch":"C","grp":"ann","t":2.9,"v":1},{"orch":"C","grp":"con","t":2.85,"v":1},{"orch":"C","grp":"con","t":3.1,"v":1},{"orch":"C","grp":"ctl","t":3.15,"v":1},
{"orch":"C","grp":"per","t":3.87,"v":3.9},{"orch":"C","grp":"per","t":3.9,"v":3},{"orch":"C","grp":"per","t":3.85,"v":1},{"orch":"C","grp":"ann","t":3.93,"v":2},{"orch":"C","grp":"ann","t":4.05,"v":1},{"orch":"C","grp":"ctl","t":3.8,"v":1},{"orch":"C","grp":"ctl","t":4.1,"v":1},
{"orch":"C","grp":"per","t":4.85,"v":1},{"orch":"C","grp":"per","t":5.1,"v":1},{"orch":"C","grp":"ann","t":4.95,"v":1},{"orch":"C","grp":"ctl","t":5.05,"v":1},{"orch":"C","grp":"ctl","t":5.15,"v":1},
{"kind":"mn","orch":"A","grp":"ann","seg":"managed","t":1,"v":3.43},{"kind":"mn","orch":"A","grp":"ann","seg":"managed","t":2,"v":2.7},{"kind":"mn","orch":"A","grp":"ann","seg":"managed","t":3,"v":4.15},
{"kind":"mn","orch":"A","grp":"ann","seg":"unmanaged plots only","t":3,"v":4.15},{"kind":"mn","orch":"A","grp":"ann","seg":"unmanaged plots only","t":4,"v":3.1},{"kind":"mn","orch":"A","grp":"ann","seg":"unmanaged plots only","t":5,"v":3.35},
{"kind":"mn","orch":"A","grp":"con","seg":"managed","t":1,"v":1.28},{"kind":"mn","orch":"A","grp":"con","seg":"managed","t":2,"v":1.19},{"kind":"mn","orch":"A","grp":"con","seg":"managed","t":3,"v":7.3},
{"kind":"mn","orch":"A","grp":"per","seg":"managed","t":1,"v":1.62},{"kind":"mn","orch":"A","grp":"per","seg":"managed","t":2,"v":1.82},{"kind":"mn","orch":"A","grp":"per","seg":"managed","t":3,"v":42.8},
{"kind":"mn","orch":"A","grp":"per","seg":"unmanaged plots only","t":3,"v":42.8},{"kind":"mn","orch":"A","grp":"per","seg":"unmanaged plots only","t":4,"v":9.9},{"kind":"mn","orch":"A","grp":"per","seg":"unmanaged plots only","t":5,"v":1.5},
{"kind":"mn","orch":"A","grp":"ctl","seg":"managed","t":1,"v":1.03},{"kind":"mn","orch":"A","grp":"ctl","seg":"managed","t":2,"v":1.43},{"kind":"mn","orch":"A","grp":"ctl","seg":"managed","t":3,"v":1.38},
{"kind":"mn","orch":"A","grp":"ctl","seg":"unmanaged plots only","t":3,"v":1.38},{"kind":"mn","orch":"A","grp":"ctl","seg":"unmanaged plots only","t":4,"v":1},{"kind":"mn","orch":"A","grp":"ctl","seg":"unmanaged plots only","t":5,"v":1},
{"kind":"mn","orch":"B","grp":"ann","seg":"managed","t":1,"v":1},{"kind":"mn","orch":"B","grp":"ann","seg":"managed","t":2,"v":1},{"kind":"mn","orch":"B","grp":"ann","seg":"managed","t":3,"v":3.45},
{"kind":"mn","orch":"B","grp":"ann","seg":"unmanaged plots only","t":3,"v":3.45},{"kind":"mn","orch":"B","grp":"ann","seg":"unmanaged plots only","t":4,"v":1.62},{"kind":"mn","orch":"B","grp":"ann","seg":"unmanaged plots only","t":5,"v":1.1},
{"kind":"mn","orch":"B","grp":"con","seg":"managed","t":1,"v":1.16},{"kind":"mn","orch":"B","grp":"con","seg":"managed","t":2,"v":1},{"kind":"mn","orch":"B","grp":"con","seg":"managed","t":3,"v":1.05},
{"kind":"mn","orch":"B","grp":"per","seg":"managed","t":1,"v":1.41},{"kind":"mn","orch":"B","grp":"per","seg":"managed","t":2,"v":4.3},{"kind":"mn","orch":"B","grp":"per","seg":"managed","t":3,"v":2.42},
{"kind":"mn","orch":"B","grp":"per","seg":"unmanaged plots only","t":3,"v":2.42},{"kind":"mn","orch":"B","grp":"per","seg":"unmanaged plots only","t":4,"v":2.26},{"kind":"mn","orch":"B","grp":"per","seg":"unmanaged plots only","t":5,"v":1.12},
{"kind":"mn","orch":"B","grp":"ctl","seg":"managed","t":1,"v":1},{"kind":"mn","orch":"B","grp":"ctl","seg":"managed","t":2,"v":1.15},{"kind":"mn","orch":"B","grp":"ctl","seg":"managed","t":3,"v":1},
{"kind":"mn","orch":"B","grp":"ctl","seg":"unmanaged plots only","t":3,"v":1},{"kind":"mn","orch":"B","grp":"ctl","seg":"unmanaged plots only","t":4,"v":1.25},{"kind":"mn","orch":"B","grp":"ctl","seg":"unmanaged plots only","t":5,"v":1},
{"kind":"mn","orch":"C","grp":"ann","seg":"managed","t":1,"v":1},{"kind":"mn","orch":"C","grp":"ann","seg":"managed","t":2,"v":1},{"kind":"mn","orch":"C","grp":"ann","seg":"managed","t":3,"v":1.15},
{"kind":"mn","orch":"C","grp":"ann","seg":"unmanaged plots only","t":3,"v":1.15},{"kind":"mn","orch":"C","grp":"ann","seg":"unmanaged plots only","t":4,"v":1.25},{"kind":"mn","orch":"C","grp":"ann","seg":"unmanaged plots only","t":5,"v":1},
{"kind":"mn","orch":"C","grp":"con","seg":"managed","t":1,"v":1},{"kind":"mn","orch":"C","grp":"con","seg":"managed","t":2,"v":1},{"kind":"mn","orch":"C","grp":"con","seg":"managed","t":3,"v":1},
{"kind":"mn","orch":"C","grp":"per","seg":"managed","t":1,"v":1.28},{"kind":"mn","orch":"C","grp":"per","seg":"managed","t":2,"v":1.25},{"kind":"mn","orch":"C","grp":"per","seg":"managed","t":3,"v":1.22},
{"kind":"mn","orch":"C","grp":"per","seg":"unmanaged plots only","t":3,"v":1.22},{"kind":"mn","orch":"C","grp":"per","seg":"unmanaged plots only","t":4,"v":1.5},{"kind":"mn","orch":"C","grp":"per","seg":"unmanaged plots only","t":5,"v":1},
{"kind":"mn","orch":"C","grp":"ctl","seg":"managed","t":1,"v":1},{"kind":"mn","orch":"C","grp":"ctl","seg":"managed","t":2,"v":1},{"kind":"mn","orch":"C","grp":"ctl","seg":"managed","t":3,"v":1},
{"kind":"mn","orch":"C","grp":"ctl","seg":"unmanaged plots only","t":3,"v":1},{"kind":"mn","orch":"C","grp":"ctl","seg":"unmanaged plots only","t":4,"v":1},{"kind":"mn","orch":"C","grp":"ctl","seg":"unmanaged plots only","t":5,"v":1}
],
"rowC":[
{"kind":"bg","orch":"A","per":"pre-flail period","t":0.52,"t2":3.48,"v":-0.47,"v2":8},
{"kind":"bg","orch":"B","per":"pre-flail period","t":0.52,"t2":3.48,"v":-0.47,"v2":8},
{"kind":"bg","orch":"C","per":"pre-flail period","t":0.52,"t2":3.48,"v":-0.47,"v2":8},
{"orch":"A","grp":"ctl","t":1.17,"v":5.41},{"orch":"A","grp":"ctl","t":1.06,"v":1.06},{"orch":"A","grp":"ctl","t":0.85,"v":0.31},{"orch":"A","grp":"ctl","t":0.85,"v":-0.02},{"orch":"A","grp":"ctl","t":0.83,"v":-0.33},{"orch":"A","grp":"ctl","t":0.98,"v":-0.27},
{"orch":"A","grp":"ann","t":1.04,"v":3.74},{"orch":"A","grp":"ann","t":0.84,"v":3.26},{"orch":"A","grp":"ann","t":1.2,"v":2.93},{"orch":"A","grp":"ann","t":0.94,"v":2.67},{"orch":"A","grp":"ann","t":0.91,"v":1.95},{"orch":"A","grp":"ann","t":0.85,"v":1.22},{"orch":"A","grp":"ann","t":0.89,"v":1.03},{"orch":"A","grp":"ann","t":1.09,"v":0.66},{"orch":"A","grp":"ann","t":1.14,"v":0.02},{"orch":"A","grp":"ann","t":0.91,"v":-0.08},{"orch":"A","grp":"ann","t":0.98,"v":-0.11},{"orch":"A","grp":"ann","t":0.86,"v":-0.19},{"orch":"A","grp":"ann","t":0.88,"v":-0.38},
{"orch":"A","grp":"per","t":1.15,"v":3.32},{"orch":"A","grp":"per","t":1.12,"v":2.8},{"orch":"A","grp":"per","t":1.15,"v":2.32},{"orch":"A","grp":"per","t":0.86,"v":1.4},{"orch":"A","grp":"per","t":1.0,"v":1.35},{"orch":"A","grp":"per","t":1.07,"v":1.1},{"orch":"A","grp":"per","t":1.17,"v":0.67},{"orch":"A","grp":"per","t":0.96,"v":-0.19},{"orch":"A","grp":"per","t":1.11,"v":-0.24},
{"orch":"A","grp":"con","t":0.93,"v":1.84},{"orch":"A","grp":"con","t":0.83,"v":0.17},{"orch":"A","grp":"con","t":1.06,"v":0.2},{"orch":"A","grp":"con","t":0.89,"v":0.03},{"orch":"A","grp":"con","t":1.19,"v":0.06},{"orch":"A","grp":"con","t":1.06,"v":-0.32},{"orch":"A","grp":"con","t":1.19,"v":-0.39},
{"orch":"A","grp":"ann","t":1.87,"v":5.12},{"orch":"A","grp":"ann","t":1.95,"v":0.86},{"orch":"A","grp":"ann","t":2.09,"v":0.31},{"orch":"A","grp":"ann","t":1.85,"v":-0.19},{"orch":"A","grp":"ann","t":1.94,"v":-0.21},{"orch":"A","grp":"ann","t":2.18,"v":-0.38},
{"orch":"A","grp":"con","t":2.13,"v":1.88},{"orch":"A","grp":"con","t":2.2,"v":1.64},{"orch":"A","grp":"con","t":1.93,"v":1.06},{"orch":"A","grp":"con","t":1.82,"v":0.17},{"orch":"A","grp":"con","t":2.14,"v":0.14},{"orch":"A","grp":"con","t":2.04,"v":-0.02},{"orch":"A","grp":"con","t":2.14,"v":-0.31},
{"orch":"A","grp":"per","t":1.8,"v":1.3},{"orch":"A","grp":"per","t":1.9,"v":1.23},{"orch":"A","grp":"per","t":2.01,"v":1.22},{"orch":"A","grp":"per","t":2.14,"v":1.22},{"orch":"A","grp":"per","t":1.88,"v":0.86},{"orch":"A","grp":"per","t":2.08,"v":0.64},{"orch":"A","grp":"per","t":2.17,"v":-0.02},
{"orch":"A","grp":"ctl","t":1.82,"v":0.97},{"orch":"A","grp":"ctl","t":2.03,"v":0.97},{"orch":"A","grp":"ctl","t":1.91,"v":0.42},{"orch":"A","grp":"ctl","t":1.84,"v":0.25},{"orch":"A","grp":"ctl","t":1.9,"v":-0.27},{"orch":"A","grp":"ctl","t":2.08,"v":-0.28},{"orch":"A","grp":"ctl","t":1.96,"v":-0.35},
{"orch":"A","grp":"per","t":3.11,"v":8.38},{"orch":"A","grp":"per","t":3.01,"v":7.33},{"orch":"A","grp":"per","t":3.03,"v":7.28},{"orch":"A","grp":"per","t":3.07,"v":7.15},{"orch":"A","grp":"per","t":3.17,"v":6.23},{"orch":"A","grp":"per","t":3.0,"v":5.4},{"orch":"A","grp":"per","t":2.98,"v":3.38},{"orch":"A","grp":"per","t":3.07,"v":2.85},{"orch":"A","grp":"per","t":2.87,"v":2.36},{"orch":"A","grp":"per","t":2.85,"v":1.75},{"orch":"A","grp":"per","t":3.1,"v":1.69},{"orch":"A","grp":"per","t":2.97,"v":1.66},{"orch":"A","grp":"per","t":2.89,"v":0.91},{"orch":"A","grp":"per","t":3.11,"v":0.25},{"orch":"A","grp":"per","t":3.0,"v":0.06},
{"orch":"A","grp":"ctl","t":2.93,"v":4.07},{"orch":"A","grp":"ctl","t":3.13,"v":3.68},{"orch":"A","grp":"ctl","t":2.94,"v":3.13},{"orch":"A","grp":"ctl","t":3.1,"v":3.24},{"orch":"A","grp":"ctl","t":2.9,"v":2.18},{"orch":"A","grp":"ctl","t":3.06,"v":1.31},{"orch":"A","grp":"ctl","t":3.02,"v":0.67},{"orch":"A","grp":"ctl","t":3.17,"v":0.67},{"orch":"A","grp":"ctl","t":2.9,"v":0.13},{"orch":"A","grp":"ctl","t":3.17,"v":0.13},{"orch":"A","grp":"ctl","t":2.83,"v":-0.13},
{"orch":"A","grp":"con","t":3.08,"v":3.41},{"orch":"A","grp":"con","t":2.97,"v":2.88},{"orch":"A","grp":"con","t":2.8,"v":2.21},{"orch":"A","grp":"con","t":3.15,"v":2.13},{"orch":"A","grp":"con","t":3.06,"v":1.17},{"orch":"A","grp":"con","t":2.9,"v":0.73},{"orch":"A","grp":"con","t":3.0,"v":0.36},{"orch":"A","grp":"con","t":2.89,"v":-0.19},{"orch":"A","grp":"con","t":3.11,"v":-0.38},
{"orch":"A","grp":"ann","t":3.02,"v":3.07},{"orch":"A","grp":"ann","t":3.05,"v":3.0},{"orch":"A","grp":"ann","t":3.02,"v":2.28},{"orch":"A","grp":"ann","t":2.82,"v":1.97},{"orch":"A","grp":"ann","t":3.12,"v":2.0},{"orch":"A","grp":"ann","t":2.79,"v":1.83},{"orch":"A","grp":"ann","t":3.11,"v":1.64},{"orch":"A","grp":"ann","t":2.94,"v":0.89},{"orch":"A","grp":"ann","t":3.11,"v":0.73},{"orch":"A","grp":"ann","t":2.85,"v":0.29},{"orch":"A","grp":"ann","t":2.89,"v":0.2},{"orch":"A","grp":"ann","t":3.07,"v":0.13},{"orch":"A","grp":"ann","t":2.98,"v":-0.02},{"orch":"A","grp":"ann","t":3.15,"v":-0.02},{"orch":"A","grp":"ann","t":2.89,"v":-0.15},{"orch":"A","grp":"ann","t":3.06,"v":-0.19},{"orch":"A","grp":"ann","t":3.17,"v":-0.31},
{"orch":"A","grp":"ctl","t":3.96,"v":3.68},{"orch":"A","grp":"ctl","t":3.9,"v":0.64},{"orch":"A","grp":"ctl","t":3.97,"v":0.03},{"orch":"A","grp":"ctl","t":4.09,"v":-0.09},{"orch":"A","grp":"ctl","t":3.91,"v":-0.39},
{"orch":"A","grp":"ann","t":3.91,"v":3.0},{"orch":"A","grp":"ann","t":3.83,"v":2.1},{"orch":"A","grp":"ann","t":3.84,"v":2.02},{"orch":"A","grp":"ann","t":4.02,"v":1.86},{"orch":"A","grp":"ann","t":3.83,"v":0.28},{"orch":"A","grp":"ann","t":3.85,"v":-0.3},{"orch":"A","grp":"ann","t":3.99,"v":-0.41},
{"orch":"A","grp":"per","t":3.99,"v":2.71},{"orch":"A","grp":"per","t":3.88,"v":2.32},{"orch":"A","grp":"per","t":3.85,"v":1.03},{"orch":"A","grp":"per","t":3.94,"v":0.9},{"orch":"A","grp":"per","t":3.96,"v":0.8},{"orch":"A","grp":"per","t":4.13,"v":0.29},
{"orch":"A","grp":"ann","t":4.85,"v":3.12},{"orch":"A","grp":"ann","t":5.14,"v":1.97},{"orch":"A","grp":"ann","t":5.18,"v":1.86},{"orch":"A","grp":"ann","t":5.18,"v":0.11},{"orch":"A","grp":"ann","t":4.85,"v":-0.02},{"orch":"A","grp":"ann","t":4.92,"v":-0.31},{"orch":"A","grp":"ann","t":4.93,"v":-0.35},
{"orch":"A","grp":"ctl","t":5.13,"v":1.66},{"orch":"A","grp":"ctl","t":5.08,"v":0.14},{"orch":"A","grp":"ctl","t":4.79,"v":-0.35},{"orch":"A","grp":"per","t":5.11,"v":0.29},{"orch":"A","grp":"per","t":4.8,"v":-0.24},
{"orch":"B","grp":"per","t":0.83,"v":2.35},{"orch":"B","grp":"per","t":1.08,"v":2.16},{"orch":"B","grp":"per","t":1.01,"v":1.88},{"orch":"B","grp":"per","t":1.06,"v":1.92},{"orch":"B","grp":"per","t":1.17,"v":1.42},{"orch":"B","grp":"per","t":0.92,"v":1.0},{"orch":"B","grp":"per","t":0.82,"v":-0.35},{"orch":"B","grp":"per","t":1.06,"v":0.2},
{"orch":"B","grp":"ann","t":0.81,"v":0.31},{"orch":"B","grp":"ann","t":1.16,"v":-0.22},{"orch":"B","grp":"ann","t":0.86,"v":-0.08},{"orch":"B","grp":"ann","t":1.11,"v":-0.13},
{"orch":"B","grp":"con","t":0.88,"v":0.2},{"orch":"B","grp":"con","t":0.96,"v":-0.3},{"orch":"B","grp":"con","t":1.17,"v":0.25},{"orch":"B","grp":"con","t":0.91,"v":-0.02},{"orch":"B","grp":"con","t":1.06,"v":-0.35},
{"orch":"B","grp":"ctl","t":0.76,"v":0.03},{"orch":"B","grp":"ctl","t":1.15,"v":0.36},{"orch":"B","grp":"ctl","t":1.04,"v":-0.02},{"orch":"B","grp":"ctl","t":0.96,"v":-0.39},
{"orch":"B","grp":"ctl","t":1.99,"v":4.02},{"orch":"B","grp":"ctl","t":1.86,"v":2.38},{"orch":"B","grp":"ctl","t":2.01,"v":0.2},{"orch":"B","grp":"ctl","t":1.97,"v":-0.13},{"orch":"B","grp":"ctl","t":1.87,"v":-0.33},{"orch":"B","grp":"ctl","t":2.07,"v":-0.02},
{"orch":"B","grp":"per","t":1.88,"v":2.94},{"orch":"B","grp":"per","t":2.2,"v":2.82},{"orch":"B","grp":"per","t":2.01,"v":1.84},{"orch":"B","grp":"per","t":2.16,"v":1.62},{"orch":"B","grp":"per","t":1.86,"v":1.2},{"orch":"B","grp":"per","t":1.99,"v":1.16},{"orch":"B","grp":"per","t":1.89,"v":0.84},{"orch":"B","grp":"per","t":2.12,"v":-0.24},
{"orch":"B","grp":"ann","t":1.94,"v":1.79},{"orch":"B","grp":"ann","t":2.08,"v":1.1},{"orch":"B","grp":"ann","t":1.87,"v":0.37},{"orch":"B","grp":"ann","t":1.94,"v":0.25},{"orch":"B","grp":"ann","t":1.82,"v":-0.06},{"orch":"B","grp":"ann","t":2.17,"v":-0.13},{"orch":"B","grp":"ann","t":1.92,"v":0.09},
{"orch":"B","grp":"con","t":2.16,"v":1.12},{"orch":"B","grp":"con","t":2.1,"v":0.2},{"orch":"B","grp":"con","t":2.17,"v":0.03},{"orch":"B","grp":"con","t":2.02,"v":-0.24},{"orch":"B","grp":"con","t":2.16,"v":-0.35},
{"orch":"B","grp":"per","t":2.89,"v":5.31},{"orch":"B","grp":"per","t":3.15,"v":4.38},{"orch":"B","grp":"per","t":3.12,"v":4.02},{"orch":"B","grp":"per","t":2.98,"v":3.05},{"orch":"B","grp":"per","t":2.93,"v":1.39},{"orch":"B","grp":"per","t":2.84,"v":1.22},{"orch":"B","grp":"per","t":3.05,"v":1.16},{"orch":"B","grp":"per","t":3.21,"v":-0.19},{"orch":"B","grp":"per","t":3.17,"v":-0.31},
{"orch":"B","grp":"ctl","t":2.81,"v":3.37},{"orch":"B","grp":"ctl","t":2.87,"v":2.22},{"orch":"B","grp":"ctl","t":3.21,"v":1.86},{"orch":"B","grp":"ctl","t":3.11,"v":1.38},{"orch":"B","grp":"ctl","t":2.98,"v":0.64},{"orch":"B","grp":"ctl","t":2.84,"v":0.29},{"orch":"B","grp":"ctl","t":3.02,"v":-0.3},{"orch":"B","grp":"ctl","t":2.93,"v":-0.35},
{"orch":"B","grp":"ann","t":3.02,"v":2.28},{"orch":"B","grp":"ann","t":3.02,"v":1.9},{"orch":"B","grp":"ann","t":2.85,"v":1.03},{"orch":"B","grp":"ann","t":3.16,"v":1.03},{"orch":"B","grp":"ann","t":3.08,"v":0.42},{"orch":"B","grp":"ann","t":2.88,"v":0.03},{"orch":"B","grp":"ann","t":3.13,"v":-0.27},{"orch":"B","grp":"ann","t":3.06,"v":-0.08},{"orch":"B","grp":"ann","t":3.18,"v":-0.24},
{"orch":"B","grp":"con","t":2.92,"v":0.73},{"orch":"B","grp":"con","t":3.18,"v":0.7},{"orch":"B","grp":"con","t":3.13,"v":0.55},{"orch":"B","grp":"con","t":3.19,"v":0.31},{"orch":"B","grp":"con","t":2.98,"v":-0.02},{"orch":"B","grp":"con","t":3.16,"v":0.09},{"orch":"B","grp":"con","t":2.83,"v":-0.13},
{"orch":"B","grp":"ann","t":3.81,"v":3.99},{"orch":"B","grp":"ann","t":3.92,"v":0.25},{"orch":"B","grp":"ann","t":4.02,"v":0.14},{"orch":"B","grp":"ctl","t":3.89,"v":0.4},{"orch":"B","grp":"ctl","t":4.03,"v":-0.06},
{"orch":"B","grp":"per","t":3.85,"v":-0.11},{"orch":"B","grp":"per","t":3.83,"v":-0.24},{"orch":"B","grp":"per","t":3.99,"v":-0.15},{"orch":"B","grp":"per","t":4.04,"v":-0.22},{"orch":"B","grp":"per","t":4.09,"v":-0.27},{"orch":"B","grp":"per","t":4.21,"v":0.0},
{"orch":"B","grp":"ann","t":4.93,"v":0.84},{"orch":"B","grp":"ann","t":4.81,"v":0.25},{"orch":"B","grp":"ann","t":4.9,"v":0.2},{"orch":"B","grp":"ann","t":4.91,"v":-0.13},{"orch":"B","grp":"ctl","t":5.17,"v":0.33},
{"orch":"B","grp":"per","t":5.16,"v":0.2},{"orch":"B","grp":"per","t":5.13,"v":-0.06},{"orch":"B","grp":"per","t":5.1,"v":-0.39},{"orch":"B","grp":"per","t":5.18,"v":-0.3},
{"orch":"C","grp":"per","t":0.95,"v":3.41},{"orch":"C","grp":"per","t":1.13,"v":1.0},{"orch":"C","grp":"per","t":0.81,"v":0.4},{"orch":"C","grp":"per","t":1.18,"v":-0.19},{"orch":"C","grp":"per","t":0.8,"v":-0.19},{"orch":"C","grp":"per","t":0.91,"v":0.11},
{"orch":"C","grp":"con","t":0.84,"v":0.25},{"orch":"C","grp":"con","t":1.09,"v":0.36},{"orch":"C","grp":"con","t":0.89,"v":-0.35},{"orch":"C","grp":"con","t":0.98,"v":-0.02},{"orch":"C","grp":"con","t":1.12,"v":-0.35},
{"orch":"C","grp":"ann","t":0.81,"v":-0.02},{"orch":"C","grp":"ann","t":1.14,"v":0.09},{"orch":"C","grp":"ann","t":1.04,"v":-0.24},{"orch":"C","grp":"ann","t":0.86,"v":-0.08},
{"orch":"C","grp":"ctl","t":0.89,"v":0.42},{"orch":"C","grp":"ctl","t":0.99,"v":-0.41},{"orch":"C","grp":"ctl","t":1.07,"v":0.2},
{"orch":"C","grp":"per","t":1.86,"v":1.19},{"orch":"C","grp":"per","t":1.82,"v":0.67},{"orch":"C","grp":"per","t":1.84,"v":0.31},{"orch":"C","grp":"per","t":1.89,"v":-0.35},
{"orch":"C","grp":"ann","t":1.87,"v":0.9},{"orch":"C","grp":"ann","t":1.97,"v":0.25},{"orch":"C","grp":"ann","t":1.85,"v":-0.02},{"orch":"C","grp":"ann","t":2.17,"v":-0.08},{"orch":"C","grp":"ann","t":2.1,"v":-0.35},
{"orch":"C","grp":"con","t":1.9,"v":0.36},{"orch":"C","grp":"con","t":2.15,"v":0.31},{"orch":"C","grp":"con","t":1.92,"v":-0.24},{"orch":"C","grp":"con","t":2.05,"v":-0.08},
{"orch":"C","grp":"ctl","t":2.05,"v":0.09},{"orch":"C","grp":"ctl","t":2.12,"v":-0.13},{"orch":"C","grp":"ctl","t":2.0,"v":-0.3},{"orch":"C","grp":"ctl","t":1.82,"v":0.14},
{"orch":"C","grp":"per","t":2.88,"v":1.42},{"orch":"C","grp":"per","t":2.83,"v":-0.02},{"orch":"C","grp":"per","t":3.18,"v":-0.19},{"orch":"C","grp":"per","t":3.13,"v":0.09},
{"orch":"C","grp":"ann","t":2.8,"v":0.31},{"orch":"C","grp":"ann","t":2.9,"v":0.2},{"orch":"C","grp":"ann","t":2.98,"v":-0.3},{"orch":"C","grp":"ann","t":2.85,"v":0.03},{"orch":"C","grp":"ann","t":3.08,"v":-0.35},
{"orch":"C","grp":"ctl","t":3.06,"v":0.25},{"orch":"C","grp":"ctl","t":3.11,"v":-0.13},{"orch":"C","grp":"ctl","t":3.18,"v":0.03},
{"orch":"C","grp":"con","t":3.16,"v":0.31},{"orch":"C","grp":"con","t":2.83,"v":-0.24},{"orch":"C","grp":"con","t":3.03,"v":-0.38},{"orch":"C","grp":"con","t":2.95,"v":-0.02},
{"orch":"C","grp":"per","t":4.1,"v":1.38},{"orch":"C","grp":"per","t":4.04,"v":0.75},{"orch":"C","grp":"per","t":4.02,"v":0.59},{"orch":"C","grp":"per","t":3.99,"v":0.51},{"orch":"C","grp":"per","t":4.11,"v":-0.06},
{"orch":"C","grp":"ann","t":3.82,"v":0.29},{"orch":"C","grp":"ann","t":4.09,"v":0.22},{"orch":"C","grp":"ann","t":3.84,"v":-0.15},{"orch":"C","grp":"ann","t":3.86,"v":-0.22},{"orch":"C","grp":"ann","t":4.04,"v":-0.35},
{"orch":"C","grp":"ctl","t":3.89,"v":0.31},{"orch":"C","grp":"ctl","t":4.15,"v":0.2},{"orch":"C","grp":"ctl","t":3.91,"v":0.03},{"orch":"C","grp":"ctl","t":4.06,"v":0.03},
{"orch":"C","grp":"per","t":5.05,"v":0.34},{"orch":"C","grp":"per","t":5.19,"v":0.14},{"orch":"C","grp":"per","t":4.83,"v":-0.21},{"orch":"C","grp":"per","t":5.12,"v":-0.33},
{"orch":"C","grp":"ctl","t":4.87,"v":0.28},{"orch":"C","grp":"ctl","t":5.07,"v":0.22},{"orch":"C","grp":"ctl","t":4.85,"v":-0.35},{"orch":"C","grp":"ctl","t":4.97,"v":-0.02},
{"orch":"C","grp":"ann","t":5.15,"v":0.09},{"orch":"C","grp":"ann","t":4.99,"v":0.06},
{"kind":"mn","orch":"A","grp":"ann","seg":"managed","t":1,"v":0.95},{"kind":"mn","orch":"A","grp":"ann","seg":"managed","t":2,"v":0.37},{"kind":"mn","orch":"A","grp":"ann","seg":"managed","t":3,"v":0.88},
{"kind":"mn","orch":"A","grp":"ann","seg":"unmanaged plots only","t":3,"v":0.88},{"kind":"mn","orch":"A","grp":"ann","seg":"unmanaged plots only","t":4,"v":1.1},{"kind":"mn","orch":"A","grp":"ann","seg":"unmanaged plots only","t":5,"v":1.17},
{"kind":"mn","orch":"A","grp":"con","seg":"managed","t":1,"v":0.18},{"kind":"mn","orch":"A","grp":"con","seg":"managed","t":2,"v":0.5},{"kind":"mn","orch":"A","grp":"con","seg":"managed","t":3,"v":1.35},
{"kind":"mn","orch":"A","grp":"per","seg":"managed","t":1,"v":1.0},{"kind":"mn","orch":"A","grp":"per","seg":"managed","t":2,"v":0.51},{"kind":"mn","orch":"A","grp":"per","seg":"managed","t":3,"v":3.75},
{"kind":"mn","orch":"A","grp":"per","seg":"unmanaged plots only","t":3,"v":3.75},{"kind":"mn","orch":"A","grp":"per","seg":"unmanaged plots only","t":4,"v":1.36},{"kind":"mn","orch":"A","grp":"per","seg":"unmanaged plots only","t":5,"v":0.0},
{"kind":"mn","orch":"A","grp":"ctl","seg":"managed","t":1,"v":0.42},{"kind":"mn","orch":"A","grp":"ctl","seg":"managed","t":2,"v":0.12},{"kind":"mn","orch":"A","grp":"ctl","seg":"managed","t":3,"v":1.27},
{"kind":"mn","orch":"A","grp":"ctl","seg":"unmanaged plots only","t":3,"v":1.27},{"kind":"mn","orch":"A","grp":"ctl","seg":"unmanaged plots only","t":4,"v":1.17},{"kind":"mn","orch":"A","grp":"ctl","seg":"unmanaged plots only","t":5,"v":0.33},
{"kind":"mn","orch":"B","grp":"ann","seg":"managed","t":1,"v":0.02},{"kind":"mn","orch":"B","grp":"ann","seg":"managed","t":2,"v":0.25},{"kind":"mn","orch":"B","grp":"ann","seg":"managed","t":3,"v":0.46},
{"kind":"mn","orch":"B","grp":"ann","seg":"unmanaged plots only","t":3,"v":0.46},{"kind":"mn","orch":"B","grp":"ann","seg":"unmanaged plots only","t":4,"v":0.66},{"kind":"mn","orch":"B","grp":"ann","seg":"unmanaged plots only","t":5,"v":0.2},
{"kind":"mn","orch":"B","grp":"con","seg":"managed","t":1,"v":0.02},{"kind":"mn","orch":"B","grp":"con","seg":"managed","t":2,"v":0.08},{"kind":"mn","orch":"B","grp":"con","seg":"managed","t":3,"v":0.18},
{"kind":"mn","orch":"B","grp":"per","seg":"managed","t":1,"v":0.63},{"kind":"mn","orch":"B","grp":"per","seg":"managed","t":2,"v":0.85},{"kind":"mn","orch":"B","grp":"per","seg":"managed","t":3,"v":1.2},
{"kind":"mn","orch":"B","grp":"per","seg":"unmanaged plots only","t":3,"v":1.2},{"kind":"mn","orch":"B","grp":"per","seg":"unmanaged plots only","t":4,"v":0.0},{"kind":"mn","orch":"B","grp":"per","seg":"unmanaged plots only","t":5,"v":0.0},
{"kind":"mn","orch":"B","grp":"ctl","seg":"managed","t":1,"v":0.03},{"kind":"mn","orch":"B","grp":"ctl","seg":"managed","t":2,"v":0.34},{"kind":"mn","orch":"B","grp":"ctl","seg":"managed","t":3,"v":0.53},
{"kind":"mn","orch":"B","grp":"ctl","seg":"unmanaged plots only","t":3,"v":0.53},{"kind":"mn","orch":"B","grp":"ctl","seg":"unmanaged plots only","t":4,"v":0.0},{"kind":"mn","orch":"B","grp":"ctl","seg":"unmanaged plots only","t":5,"v":0.0},
{"kind":"mn","orch":"C","grp":"ann","seg":"managed","t":1,"v":0.02},{"kind":"mn","orch":"C","grp":"ann","seg":"managed","t":2,"v":0.04},{"kind":"mn","orch":"C","grp":"ann","seg":"managed","t":3,"v":0.02},
{"kind":"mn","orch":"C","grp":"ann","seg":"unmanaged plots only","t":3,"v":0.02},{"kind":"mn","orch":"C","grp":"ann","seg":"unmanaged plots only","t":4,"v":0.05},{"kind":"mn","orch":"C","grp":"ann","seg":"unmanaged plots only","t":5,"v":0.02},
{"kind":"mn","orch":"C","grp":"con","seg":"managed","t":1,"v":0.0},{"kind":"mn","orch":"C","grp":"con","seg":"managed","t":2,"v":0.0},{"kind":"mn","orch":"C","grp":"con","seg":"managed","t":3,"v":0.0},
{"kind":"mn","orch":"C","grp":"per","seg":"managed","t":1,"v":0.25},{"kind":"mn","orch":"C","grp":"per","seg":"managed","t":2,"v":0.11},{"kind":"mn","orch":"C","grp":"per","seg":"managed","t":3,"v":0.09},
{"kind":"mn","orch":"C","grp":"per","seg":"unmanaged plots only","t":3,"v":0.09},{"kind":"mn","orch":"C","grp":"per","seg":"unmanaged plots only","t":4,"v":0.5},{"kind":"mn","orch":"C","grp":"per","seg":"unmanaged plots only","t":5,"v":0.03},
{"kind":"mn","orch":"C","grp":"ctl","seg":"managed","t":1,"v":0.0},{"kind":"mn","orch":"C","grp":"ctl","seg":"managed","t":2,"v":0.0},{"kind":"mn","orch":"C","grp":"ctl","seg":"managed","t":3,"v":0.0},
{"kind":"mn","orch":"C","grp":"ctl","seg":"unmanaged plots only","t":3,"v":0.0},{"kind":"mn","orch":"C","grp":"ctl","seg":"unmanaged plots only","t":4,"v":0.0},{"kind":"mn","orch":"C","grp":"ctl","seg":"unmanaged plots only","t":5,"v":0.0}
]},
"vconcat":[
{"data":{"name":"rowA"},
"title":{"text":"a)","orient":"left","anchor":"end","angle":0,"fontSize":26,"font":"Open Sans","fontWeight":"bold","baseline":"top","align":"left","dy":80,"offset":-3},
"facet":{"column":{"field":"orch","type":"nominal","sort":["A","B","C"],"header":{"title":null,"labelExpr":"datum.value=='A'?['15-year-old orchard','(open canopy)']:datum.value=='B'?['60-year-old orchard','(intermediate canopy)']:['40-year-old orchard','(closed canopy)']","labelFont":"Open Sans","labelFontSize":15.5,"labelFontWeight":"bold","labelColor":"black","labelLineHeight":22,"labelPadding":19}}},
"spacing":10,
"spec":{"width":341,"height":290,"layer":[
{"transform":[{"filter":"datum.kind=='bg'"}],"mark":{"type":"rect"},"encoding":{
"x":{"field":"t","type":"quantitative","scale":{"domain":[0.28,5.45],"nice":false,"zero":false},"axis":{"values":[1,2,3,4,5],"labels":false,"title":null}},
"x2":{"field":"t2"},
"y":{"field":"v","type":"quantitative","scale":{"type":"log","domain":[0.72,1710],"nice":false},"axis":{"values":[1,10,100,1000],"format":"d","title":["Target floral abundance","per management plot"],"titlePadding":6,"labelPadding":3}},
"y2":{"field":"v2"},
"fill":{"field":"per","type":"nominal","scale":{"range":["#e5e5e5"]},"legend":{"orient":"none","legendX":1075,"legendY":363,"title":null,"symbolType":"square","symbolSize":484,"symbolStrokeWidth":0,"labelOffset":9,"labelExpr":"datum.label=='pre-flail period'?['pre-flail','period']:datum.label","encode":{"labels":{"update":{"lineHeight":{"value":19},"dy":{"value":-6}}}}}}}},
{"transform":[{"filter":"!datum.kind"}],"mark":{"type":"point","filled":true,"size":34,"opacity":0.55},"encoding":{
"x":{"field":"t","type":"quantitative"},"y":{"field":"v","type":"quantitative"},
"color":{"field":"grp","type":"nominal","scale":{"domain":["ann","con","per","ctl"],"range":["#F0726A","#22B14C","#6C8ED2","#FDA41A"]},"legend":{"orient":"none","legendX":1075,"legendY":401,"title":null,"symbolType":"M-1,0L1,0M-0.33,0A0.33,0.33,0,1,0,0.33,0A0.33,0.33,0,1,0,-0.33,0","symbolSize":576,"symbolStrokeWidth":3,"symbolOpacity":1,"labelOffset":8,"rowPadding":5,"labelExpr":"datum.label=='ann'?'annuals':datum.label=='con'?'conventional':datum.label=='per'?'perennials':'control'","encode":{"symbols":{"update":{"fill":{"scale":"color","field":"value"},"stroke":{"scale":"color","field":"value"},"opacity":{"value":1}}}}}}}},
{"transform":[{"filter":"datum.kind=='ln'"}],"mark":{"type":"line","strokeWidth":1.3,"opacity":0.3},"encoding":{
"x":{"field":"t","type":"quantitative"},"y":{"field":"v","type":"quantitative"},"color":{"field":"grp","type":"nominal"},"detail":{"field":"id"}}},
{"transform":[{"filter":"datum.seg=='managed'"}],"mark":{"type":"line","strokeWidth":3.5},"encoding":{
"x":{"field":"t","type":"quantitative"},"y":{"field":"v","type":"quantitative"},"color":{"field":"grp","type":"nominal"}}},
{"transform":[{"filter":"datum.seg=='unmanaged plots only'"}],"mark":{"type":"line","strokeWidth":3.5},"encoding":{
"x":{"field":"t","type":"quantitative"},"y":{"field":"v","type":"quantitative"},"color":{"field":"grp","type":"nominal"},
"strokeDash":{"field":"seg","type":"nominal","scale":{"domain":["unmanaged plots only"],"range":[[14,9]]},"legend":{"orient":"none","legendX":1075,"legendY":521,"title":null,"symbolType":"stroke","symbolSize":576,"symbolStrokeWidth":3.5,"symbolStrokeColor":"black","labelOffset":5,"labelExpr":"datum.label=='unmanaged plots only'?['unmanaged','plots only']:datum.label","encode":{"symbols":{"update":{"stroke":{"value":"black"},"strokeDash":{"value":[10,4]}}},"labels":{"update":{"lineHeight":{"value":19}}}}}}}},
{"transform":[{"filter":"datum.kind=='mn'"}],"mark":{"type":"point","filled":true,"size":85,"opacity":1},"encoding":{
"x":{"field":"t","type":"quantitative"},"y":{"field":"v","type":"quantitative"},"color":{"field":"grp","type":"nominal"}}}
]}},
{"data":{"name":"rowB"},
"title":{"text":"b)","orient":"left","anchor":"end","angle":0,"fontSize":26,"font":"Open Sans","fontWeight":"bold","baseline":"top","align":"left","dy":23,"offset":-3},
"facet":{"column":{"field":"orch","type":"nominal","sort":["A","B","C"],"header":{"title":null,"labels":false}}},
"spacing":10,
"spec":{"width":341,"height":282,"layer":[
{"transform":[{"filter":"datum.kind=='bg'"}],"mark":{"type":"rect"},"encoding":{
"x":{"field":"t","type":"quantitative","scale":{"domain":[0.28,5.45],"nice":false,"zero":false},"axis":{"values":[1,2,3,4,5],"labels":false,"title":null}},
"x2":{"field":"t2"},
"y":{"field":"v","type":"quantitative","scale":{"type":"log","domain":[0.79,119],"nice":false},"axis":{"values":[1,10,100],"format":"d","title":["Insect visitations per","management plot"],"titlePadding":14,"labelPadding":3}},
"y2":{"field":"v2"},
"fill":{"field":"per","type":"nominal"}}},
{"transform":[{"filter":"!datum.kind"}],"mark":{"type":"point","filled":true,"size":34,"opacity":0.55},"encoding":{
"x":{"field":"t","type":"quantitative"},"y":{"field":"v","type":"quantitative"},"color":{"field":"grp","type":"nominal"}}},
{"transform":[{"filter":"datum.seg=='managed'"}],"mark":{"type":"line","strokeWidth":3.5},"encoding":{
"x":{"field":"t","type":"quantitative"},"y":{"field":"v","type":"quantitative"},"color":{"field":"grp","type":"nominal"}}},
{"transform":[{"filter":"datum.seg=='unmanaged plots only'"}],"mark":{"type":"line","strokeWidth":3.5},"encoding":{
"x":{"field":"t","type":"quantitative"},"y":{"field":"v","type":"quantitative"},"color":{"field":"grp","type":"nominal"},"strokeDash":{"field":"seg","type":"nominal"}}},
{"transform":[{"filter":"datum.kind=='mn'"}],"mark":{"type":"point","filled":true,"size":85,"opacity":1},"encoding":{
"x":{"field":"t","type":"quantitative"},"y":{"field":"v","type":"quantitative"},"color":{"field":"grp","type":"nominal"}}}
]}},
{"data":{"name":"rowC"},
"title":{"text":"c)","orient":"left","anchor":"end","angle":0,"fontSize":26,"font":"Open Sans","fontWeight":"bold","baseline":"top","align":"left","dy":47,"offset":-3},
"facet":{"column":{"field":"orch","type":"nominal","sort":["A","B","C"],"header":{"title":null,"labels":false}}},
"spacing":10,
"spec":{"width":341,"height":292,"layer":[
{"transform":[{"filter":"datum.kind=='bg'"}],"mark":{"type":"rect"},"encoding":{
"x":{"field":"t","type":"quantitative","scale":{"domain":[0.28,5.45],"nice":false,"zero":false},"axis":{"values":[1,2,3,4,5],"title":null,"labelExpr":"['','Apr','May','Jun','Jul','Aug'][datum.value]","labelAngle":-45,"labelAlign":"right","labelBaseline":"middle","labelFontSize":20,"labelColor":"#333333","labelPadding":8}},
"x2":{"field":"t2"},
"y":{"field":"v","type":"quantitative","scale":{"domain":[-0.96,8.73],"nice":false,"zero":false},"axis":{"values":[0,2,4,6,8],"title":["Insect genus richness","per management plot"],"titlePadding":31,"labelPadding":3}},
"y2":{"field":"v2"},
"fill":{"field":"per","type":"nominal"}}},
{"transform":[{"filter":"!datum.kind"}],"mark":{"type":"point","filled":true,"size":34,"opacity":0.55},"encoding":{
"x":{"field":"t","type":"quantitative"},"y":{"field":"v","type":"quantitative"},"color":{"field":"grp","type":"nominal"}}},
{"transform":[{"filter":"datum.seg=='managed'"}],"mark":{"type":"line","strokeWidth":3.5},"encoding":{
"x":{"field":"t","type":"quantitative"},"y":{"field":"v","type":"quantitative"},"color":{"field":"grp","type":"nominal"}}},
{"transform":[{"filter":"datum.seg=='unmanaged plots only'"}],"mark":{"type":"line","strokeWidth":3.5},"encoding":{
"x":{"field":"t","type":"quantitative"},"y":{"field":"v","type":"quantitative"},"color":{"field":"grp","type":"nominal"},"strokeDash":{"field":"seg","type":"nominal"}}},
{"transform":[{"filter":"datum.kind=='mn'"}],"mark":{"type":"point","filled":true,"size":85,"opacity":1},"encoding":{
"x":{"field":"t","type":"quantitative"},"y":{"field":"v","type":"quantitative"},"color":{"field":"grp","type":"nominal"}}}
]}}
]}
